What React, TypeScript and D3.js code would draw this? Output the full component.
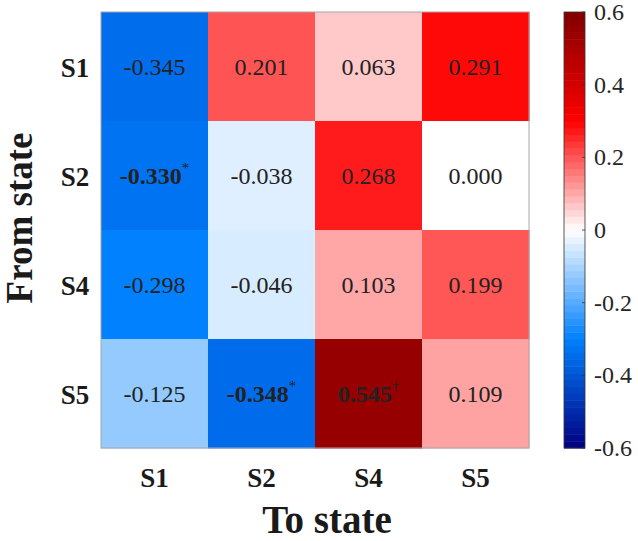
import React from 'react';
import * as d3 from 'd3';

const fromStates = ['S1', 'S2', 'S4', 'S5'];
const toStates = ['S1', 'S2', 'S4', 'S5'];

// rows = from state, cols = to state
const values = [
  [-0.345, 0.201, 0.063, 0.291],
  [-0.33, -0.038, 0.268, 0.0],
  [-0.298, -0.046, 0.103, 0.199],
  [-0.125, -0.348, 0.545, 0.109],
];

// significance marks ('' = none)
const marks = [
  ['', '', '', ''],
  ['*', '', '', ''],
  ['', '', '', ''],
  ['', '*', '\u2020', ''],
];

const cbTicks = [-0.6, -0.4, -0.2, 0, 0.2, 0.4, 0.6];

const W = 638;
const H = 541;
const box = { left: 101, top: 12, right: 529, bottom: 448 };
const cb = { left: 564, right: 585 };
const FONT = 'Liberation Serif, Times New Roman, serif';

const cmin = -0.6;
const cmax = 0.6;
const nColors = 64;

const colorOf = d3
  .scaleLinear<string>()
  .domain([-0.6, -0.3, 0, 0.3, 0.6])
  .range(['#000080', '#0080ff', '#ffffff', '#ff0000', '#800000'])
  .interpolate(d3.interpolateRgb)
  .clamp(true);

// stepped colorbar, like matlab's
const cmap = d3.range(nColors).map((i) => colorOf(cmin + ((i + 0.5) / nColors) * (cmax - cmin)));

// hyphen instead of unicode minus
const fmt = (v: number) => d3.format('.3f')(v).replace('\u2212', '-');
const fmtTick = (d: number) => (d === 0 ? '0' : d3.format('.1f')(d).replace('\u2212', '-'));

export default function App() {
  const x = d3.scaleBand().domain(toStates).range([box.left, box.right]);
  const y = d3.scaleBand().domain(fromStates).range([box.top, box.bottom]);
  const cy = d3.scaleLinear().domain([cmin, cmax]).range([box.bottom, box.top]);
  const stepH = (box.bottom - box.top) / nColors;

  return (
    <svg width={W} height={H} style={{ position: 'absolute', left: 0, top: 0, fontFamily: FONT }}>
      <rect width={W} height={H} fill="#fff" />

      {values.map((row, i) =>
        row.map((v, j) => (
          <rect
            key={`c${i}${j}`}
            x={x(toStates[j])}
            y={y(fromStates[i])}
            width={x.bandwidth() + 0.5}
            height={y.bandwidth() + 0.5}
            fill={colorOf(v)}
          />
        ))
      )}

      {values.map((row, i) =>
        row.map((v, j) => {
          const m = marks[i][j];
          return (
            <text
              key={`t${i}${j}`}
              x={x(toStates[j])! + x.bandwidth() / 2}
              y={y(fromStates[i])! + y.bandwidth() / 2 + 8}
              textAnchor="middle"
              fontSize={24}
              fontWeight={m ? 'bold' : 'normal'}
              fill="#222"
            >
              {fmt(v)}
              {m && (
                <tspan fontSize={15} dy={-11} fontWeight="normal">
                  {m}
                </tspan>
              )}
            </text>
          );
        })
      )}

      <rect
        x={box.left}
        y={box.top}
        width={box.right - box.left}
        height={box.bottom - box.top}
        fill="none"
        stroke="#a6a6a6"
        strokeWidth={1}
      />

      {fromStates.map((s) => (
        <text
          key={`r${s}`}
          x={75}
          y={y(s)! + y.bandwidth() / 2 + 10}
          textAnchor="middle"
          fontSize={27}
          fontWeight="bold"
          fill="#1a1a1a"
        >
          {s}
        </text>
      ))}

      {toStates.map((s) => (
        <text
          key={`k${s}`}
          x={x(s)! + x.bandwidth() / 2}
          y={487}
          textAnchor="middle"
          fontSize={27}
          fontWeight="bold"
          fill="#1a1a1a"
        >
          {s}
        </text>
      ))}

      <text x={327} y={533} textAnchor="middle" fontSize={39} fontWeight="bold" fill="#1a1a1a">
        To state
      </text>
      <text
        transform="translate(32,218) rotate(-90)"
        textAnchor="middle"
        fontSize={37}
        fontWeight="bold"
        fill="#1a1a1a"
      >
        From state
      </text>

      {cmap.map((c, i) => (
        <rect
          key={`cb${i}`}
          x={cb.left}
          y={box.bottom - (i + 1) * stepH}
          width={cb.right - cb.left}
          height={stepH + 0.5}
          fill={c}
        />
      ))}
      <rect
        x={cb.left}
        y={box.top}
        width={cb.right - cb.left}
        height={box.bottom - box.top}
        fill="none"
        stroke="#333"
        strokeWidth={0.8}
      />
      {cbTicks.map((t) => (
        <g key={`ct${t}`}>
          <line x1={cb.right - 3} x2={cb.right} y1={cy(t)} y2={cy(t)} stroke="#333" strokeWidth={0.8} />
          <text x={594} y={cy(t) + 8} fontSize={24} fill="#262626">
            {fmtTick(t)}
          </text>
        </g>
      ))}
    </svg>
  );
}
